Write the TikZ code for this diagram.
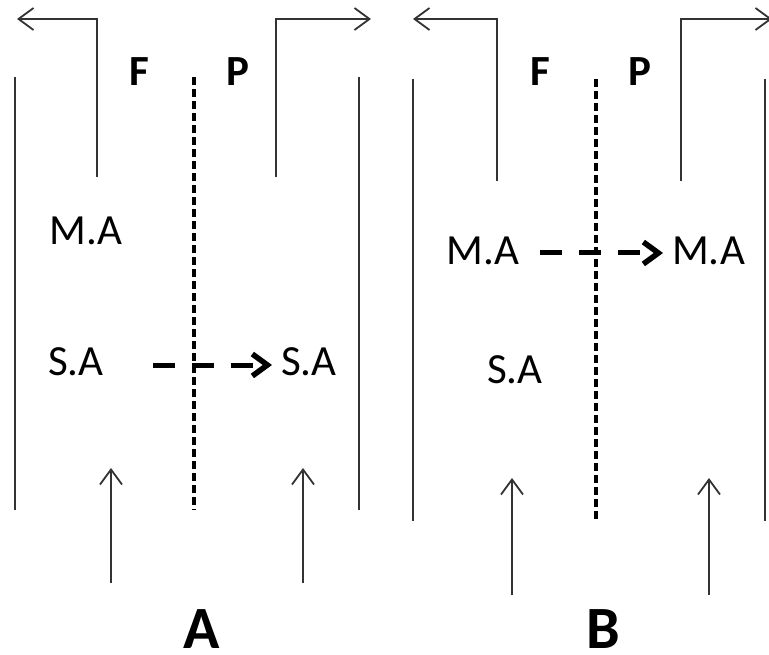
\documentclass[tikz,border=0pt]{standalone}
\usepackage{fontspec}
\setmainfont{Carlito}
\usetikzlibrary{arrows.meta}
\tikzset{
  wall/.style={line width=1.8pt, draw=black!80},
  membrane/.style={line width=3.2pt, draw=black, dash pattern=on 8pt off 4pt},
  flow/.style={line width=1.8pt, draw=black!80, -{Straight Barb[length=15pt,width=22pt]}},
  transfer/.style={line width=5pt, draw=black, dash pattern=on 22pt off 17pt, -{Straight Barb[length=15pt,width=22pt,line width=5.5pt]}},
  lbl/.style={inner sep=0pt, anchor=base, font=\fontsize{43}{50}\selectfont},
  side/.style={inner sep=0pt, anchor=base, font=\fontsize{43}{50}\selectfont\bfseries},
  panel/.style={inner sep=0pt, anchor=base, font=\fontsize{60}{70}\selectfont\bfseries}
}
\begin{document}
\begin{tikzpicture}[x=1pt,y=-1pt]
\useasboundingbox (0,0) rectangle (769,655);
% ---------- Panel A ----------
\coordinate (aLt) at (15,77);  \coordinate (aLb) at (15,510);
\coordinate (aMt) at (194,77); \coordinate (aMb) at (194,510);
\coordinate (aRt) at (359,77); \coordinate (aRb) at (359,510);
\draw[wall] (aLt) -- (aLb);
\draw[membrane] (aMt) -- (aMb);
\draw[wall] (aRt) -- (aRb);
\coordinate (aOut1s) at (97,177);  \coordinate (aOut1e) at (17,19);
\coordinate (aOut2s) at (276,177); \coordinate (aOut2e) at (371,19);
\draw[flow] (aOut1s) |- (aOut1e);
\draw[flow] (aOut2s) |- (aOut2e);
\coordinate (aIn1s) at (111,583); \coordinate (aIn1e) at (111,468);
\coordinate (aIn2s) at (303,583); \coordinate (aIn2e) at (303,468);
\draw[flow] (aIn1s) -- (aIn1e);
\draw[flow] (aIn2s) -- (aIn2e);
\node[side] (aF) at (139,86) {F};
\node[side] (aP) at (238,86) {P};
\node[lbl] (aMA) at (86,245) {M.A};
\node[lbl] (aSA) at (76,375) {S.A};
\node[lbl, anchor=base west] (aSAr) at (281,375) {S.A};
\coordinate (aTs) at (153,365);
\draw[transfer] (aTs) -- ([xshift=-9pt]aTs -| aSAr.west);
\node[panel] (aLabel) at (202,648) {A};
% ---------- Panel B ----------
\coordinate (bLt) at (413,79);  \coordinate (bLb) at (413,521);
\coordinate (bMt) at (596,79);  \coordinate (bMb) at (596,521);
\coordinate (bRt) at (765,79);  \coordinate (bRb) at (765,521);
\draw[wall] (bLt) -- (bLb);
\draw[membrane] (bMt) -- (bMb);
\draw[wall] (bRt) -- (bRb);
\coordinate (bOut1s) at (497,181); \coordinate (bOut1e) at (413,19);
\coordinate (bOut2s) at (681,181); \coordinate (bOut2e) at (772,19);
\draw[flow] (bOut1s) |- (bOut1e);
\draw[flow] (bOut2s) |- (bOut2e);
\coordinate (bIn1s) at (512,595); \coordinate (bIn1e) at (512,478);
\coordinate (bIn2s) at (709,595); \coordinate (bIn2e) at (709,478);
\draw[flow] (bIn1s) -- (bIn1e);
\draw[flow] (bIn2s) -- (bIn2e);
\node[side] (bF) at (540,86) {F};
\node[side] (bP) at (640,86) {P};
\node[lbl] (bMA) at (483,265) {M.A};
\node[lbl, anchor=base west] (bMAr) at (672,265) {M.A};
\node[lbl] (bSA) at (515,383) {S.A};
\coordinate (bTs) at (540,253);
\draw[transfer] (bTs) -- ([xshift=-9pt]bTs -| bMAr.west);
\node[panel] (bLabel) at (603,648) {B};
\end{tikzpicture}
\end{document}
